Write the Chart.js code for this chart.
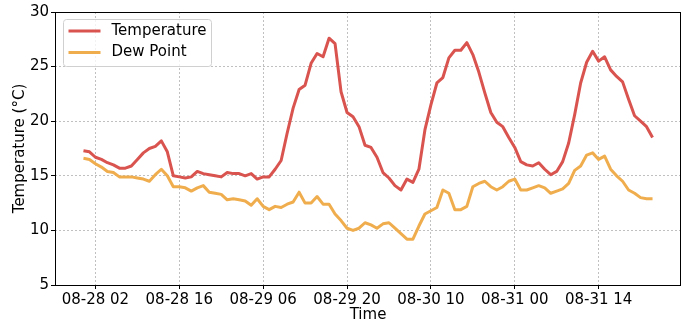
<!DOCTYPE html>
<html>
<head>
<meta charset="utf-8">
<script src="https://cdn.jsdelivr.net/npm/chart.js@4"></script>
<style>
  html, body { margin: 0; padding: 0; background: #fff; }
  #wrap { width: 686px; height: 325px; }
</style>
</head>
<body>
<div id="wrap"><canvas id="weatherChart" width="686" height="325"></canvas></div>
<script>
// hourly readings, 08-28 00:00 to 08-31 23:00
const temperature = [
    17.3, 17.2, 16.7, 16.5, 16.2, 16.0, 15.7, 15.7, 15.9, 16.5, 17.1, 17.5,
    17.7, 18.2, 17.2, 15.0, 14.9, 14.8, 14.9, 15.4, 15.2, 15.1, 15.0, 14.9,
    15.3, 15.2, 15.2, 15.0, 15.2, 14.7, 14.9, 14.9, 15.6, 16.4, 18.9, 21.2,
    22.9, 23.3, 25.3, 26.2, 25.9, 27.6, 27.1, 22.7, 20.8, 20.4, 19.5, 17.8,
    17.6, 16.7, 15.3, 14.8, 14.1, 13.7, 14.7, 14.4, 15.6, 19.2, 21.5, 23.5,
    24.0, 25.8, 26.5, 26.5, 27.2, 26.1, 24.5, 22.6, 20.8, 19.9, 19.5, 18.5,
    17.6, 16.3, 16.0, 15.9, 16.2, 15.6, 15.1, 15.4, 16.3, 18.0, 20.6, 23.5,
    25.4, 26.4, 25.5, 25.9, 24.7, 24.1, 23.6, 22.0, 20.5, 20.0, 19.5, 18.5
];
const dewPoint = [
    16.6, 16.5, 16.1, 15.8, 15.4, 15.3, 14.9, 14.9, 14.9, 14.8, 14.7, 14.5,
    15.1, 15.6, 15.0, 14.0, 14.0, 13.9, 13.6, 13.9, 14.1, 13.5, 13.4, 13.3,
    12.8, 12.9, 12.8, 12.7, 12.3, 12.9, 12.2, 11.9, 12.2, 12.1, 12.4, 12.6,
    13.5, 12.5, 12.5, 13.1, 12.4, 12.4, 11.5, 10.9, 10.2, 10.0, 10.2, 10.7,
    10.5, 10.2, 10.6, 10.7, 10.2, 9.7, 9.2, 9.2, 10.4, 11.5, 11.8, 12.1,
    13.7, 13.4, 11.9, 11.9, 12.2, 14.0, 14.3, 14.5, 14.0, 13.7, 14.0, 14.5,
    14.7, 13.7, 13.7, 13.9, 14.1, 13.9, 13.4, 13.6, 13.8, 14.3, 15.5, 15.9,
    16.9, 17.1, 16.5, 16.8, 15.6, 15.0, 14.5, 13.7, 13.4, 13.0, 12.9, 12.9
];

// x ticks: hours after 08-28 00:00
const tickHours = [2, 16, 30, 44, 58, 72, 86];
const tickLabels = ['08-28 02', '08-28 16', '08-29 06', '08-29 20', '08-30 10', '08-31 00', '08-31 14'];
const yTicks = [5, 10, 15, 20, 25, 30];

const RED = '#d9534f';
const ORANGE = '#f0ad4e';
const FONT = 'DejaVu Sans';

Chart.defaults.font.family = FONT;
Chart.defaults.font.size = 15;
Chart.defaults.color = '#000';

const toPoints = (arr) => arr.map((v, i) => ({x: i, y: v}));

// legend box + full frame, drawn on top of the plot
const frameLegend = {
    id: 'frameLegend',
    afterDraw(chart) {
        const ctx = chart.ctx;
        const a = chart.chartArea;
        ctx.save();
        ctx.strokeStyle = '#000';
        ctx.lineWidth = 1;
        ctx.strokeRect(Math.round(a.left) + 0.5, Math.round(a.top) + 0.5,
            Math.round(a.right - a.left) - 1, Math.round(a.bottom - a.top));

        const bx = a.left + 8.5, by = a.top + 7.5, bw = 148, bh = 47;
        ctx.beginPath();
        ctx.roundRect(bx, by, bw, bh, 3);
        ctx.fillStyle = 'rgba(255,255,255,0.8)';
        ctx.fill();
        ctx.strokeStyle = '#d0d0d0';
        ctx.stroke();

        const items = [['Temperature', RED], ['Dew Point', ORANGE]];
        items.forEach(([text, col], i) => {
            const y = by + 11.5 + i * 21.5;
            ctx.beginPath();
            ctx.moveTo(bx + 5, y);
            ctx.lineTo(bx + 37, y);
            ctx.strokeStyle = col;
            ctx.lineWidth = 3;
            ctx.stroke();
            ctx.fillStyle = '#000';
            ctx.font = '15px "' + FONT + '"';
            ctx.textBaseline = 'middle';
            ctx.fillText(text, bx + 48, y);
        });
        ctx.restore();
    }
};

const data_weather = {
    datasets: [
        {
            label: 'Temperature',
            data: toPoints(temperature),
            borderColor: RED,
            borderWidth: 3,
            pointRadius: 0,
            borderJoinStyle: 'round',
        },
        {
            label: 'Dew Point',
            data: toPoints(dewPoint),
            borderColor: ORANGE,
            borderWidth: 3,
            pointRadius: 0,
            borderJoinStyle: 'round',
        },
    ],
};

const config_weather = {
    type: 'line',
    data: data_weather,
    options: {
        responsive: false,
        animation: false,
        layout: { padding: { top: 12, right: 5, left: 0, bottom: 0 } },
        plugins: {
            legend: { display: false },
            tooltip: { enabled: false },
        },
        scales: {
            x: {
                type: 'linear',
                min: -4.75,
                max: 99.75,
                afterBuildTicks: (scale) => {
                    scale.ticks = tickHours.map(v => ({value: v}));
                },
                afterFit: (scale) => { scale.height = 40; },
                ticks: {
                    autoSkip: false,
                    maxRotation: 0,
                    padding: 2,
                    callback: (v) => tickLabels[tickHours.indexOf(v)],
                },
                grid: {
                    color: '#b0b0b0',
                    lineWidth: 0.8,
                    tickColor: '#000',
                    tickLength: 4,
                    tickWidth: 1,
                },
                border: { display: false, dash: [2, 2] },
                title: { display: true, text: 'Time', padding: { top: 0, bottom: 1 } },
            },
            y: {
                min: 5,
                max: 30,
                afterBuildTicks: (scale) => {
                    scale.ticks = yTicks.map(v => ({value: v}));
                },
                afterFit: (scale) => { scale.width = 55; },
                ticks: { padding: 2 },
                grid: {
                    color: '#b0b0b0',
                    lineWidth: 0.8,
                    tickColor: '#000',
                    tickLength: 4,
                    tickWidth: 1,
                },
                border: { display: false, dash: [2, 2] },
                title: { display: true, text: 'Temperature (°C)', padding: { top: 11, bottom: 0 } },
            },
        },
    },
    plugins: [frameLegend],
};

new Chart(document.querySelector('#weatherChart').getContext('2d'), config_weather);
</script>
</body>
</html>
